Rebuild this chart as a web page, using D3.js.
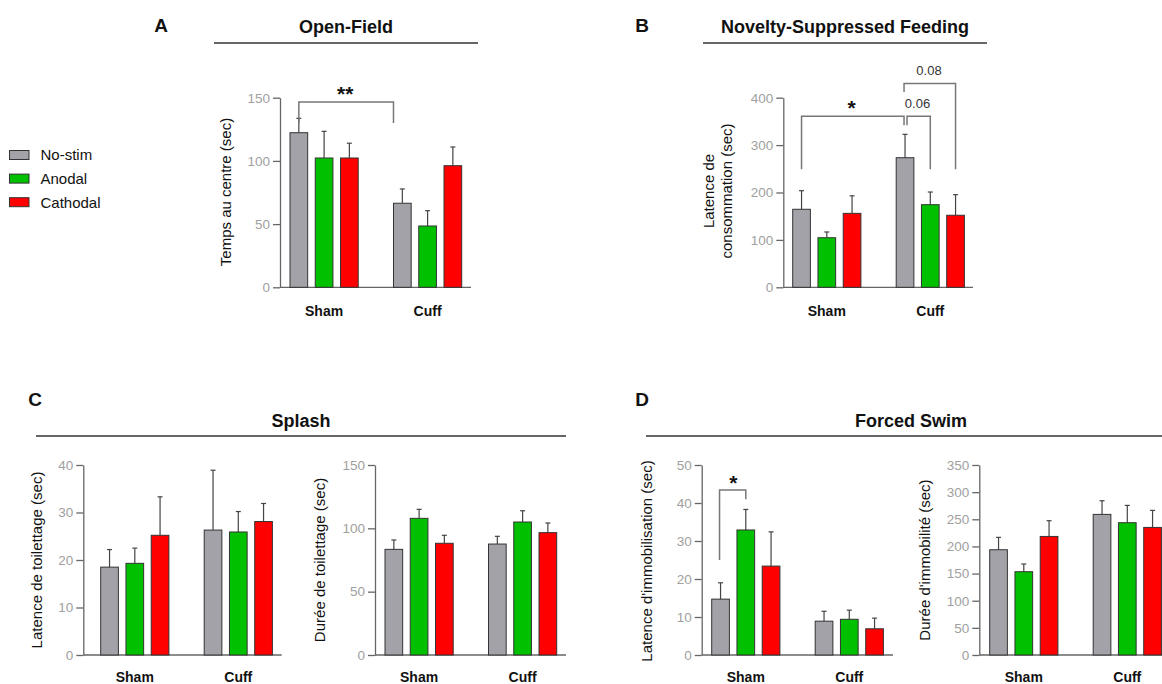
<!DOCTYPE html>
<html>
<head>
<meta charset="utf-8">
<script src="https://cdn.jsdelivr.net/npm/d3@7"></script>
<style>
  html, body { margin: 0; padding: 0; background: #fff; }
  svg { display: block; font-family: "Liberation Sans", Arial, sans-serif; }
</style>
</head>
<body>
<svg id="chart" width="1162" height="684"></svg>
<script>
// ---------------- DATA ----------------
const groups = ["Sham", "Cuff"];
const series = ["No-stim", "Anodal", "Cathodal"];
const seriesColors = ["#a2a2a8", "#00c000", "#ff0000"];

// means [group][series], sem [group][series]
const openFieldMean = [[122.3, 102.3, 102.3], [66.5, 48.5, 96.2]];
const openFieldSem  = [[11.4, 21.1, 11.7], [11.3, 12.1, 14.8]];
const openFieldTicks = [0, 50, 100, 150];

const nsfMean = [[164.6, 104.6, 156.0], [273.4, 174.3, 152.0]];
const nsfSem  = [[39.2, 12.1, 37.0], [49.3, 26.7, 43.4]];
const nsfTicks = [0, 100, 200, 300, 400];

const splashLatMean = [[18.5, 19.3, 25.2], [26.3, 25.9, 28.1]];
const splashLatSem  = [[3.7, 3.2, 8.1], [12.6, 4.3, 3.8]];
const splashLatTicks = [0, 10, 20, 30, 40];

const splashDurMean = [[83.4, 107.9, 88.2], [87.6, 105.0, 96.6]];
const splashDurSem  = [[7.4, 7.1, 6.3], [6.1, 8.9, 7.6]];
const splashDurTicks = [0, 50, 100, 150];

const swimLatMean = [[14.7, 32.9, 23.4], [8.9, 9.4, 6.9]];
const swimLatSem  = [[4.3, 5.4, 9.0], [2.6, 2.4, 2.8]];
const swimLatTicks = [0, 10, 20, 30, 40, 50];

const swimDurMean = [[193.9, 153.4, 218.4], [259.0, 243.7, 235.0]];
const swimDurSem  = [[22.8, 14.2, 29.0], [25.2, 31.9, 31.4]];
const swimDurTicks = [0, 50, 100, 150, 200, 250, 300, 350];

// ---------------- DRAWING ----------------
const svg = d3.select("#chart");
const FONT = '"Liberation Sans", Arial, sans-serif';
const AXIS_COLOR = "#666";

function drawPanel(p) {
  const g = svg.append("g");
  const y = d3.scaleLinear().domain([0, p.max]).range([p.bottom, p.top]);
  const x0 = d3.scaleBand().domain(groups)
    .range([p.ax + p.padL, p.ax + p.padL + 171.7]).paddingInner(0.341);
  const x1 = d3.scaleBand().domain(series).range([0, x0.bandwidth()]).paddingInner(0.3);

  // y axis
  const axis = d3.axisLeft(y).tickValues(p.ticks).tickSize(7).tickSizeOuter(0).tickPadding(3);
  const ag = g.append("g").attr("transform", `translate(${p.ax},0)`).call(axis);
  ag.select(".domain").attr("stroke", AXIS_COLOR).attr("stroke-width", 1.3);
  ag.selectAll(".tick line").attr("stroke", AXIS_COLOR).attr("stroke-width", 1.3);
  ag.selectAll(".tick text").attr("fill", "#a0a0a0").attr("font-size", 13.5).attr("font-family", FONT);

  // x axis line
  g.append("line").attr("x1", p.ax).attr("x2", p.axEnd)
    .attr("y1", p.bottom).attr("y2", p.bottom)
    .attr("stroke", AXIS_COLOR).attr("stroke-width", 1.3);

  // bars + error bars
  groups.forEach((gr, gi) => {
    series.forEach((s, si) => {
      const v = p.mean[gi][si], e = p.sem[gi][si];
      const bx = x0(gr) + x1(s);
      const cx = bx + x1.bandwidth() / 2;
      g.append("line").attr("x1", cx).attr("x2", cx)
        .attr("y1", y(v)).attr("y2", y(v + e))
        .attr("stroke", "#444").attr("stroke-width", 1.2);
      g.append("line").attr("x1", cx - 2.5).attr("x2", cx + 2.5)
        .attr("y1", y(v + e)).attr("y2", y(v + e))
        .attr("stroke", "#444").attr("stroke-width", 1.2);
      g.append("rect").attr("x", bx).attr("y", y(v))
        .attr("width", x1.bandwidth()).attr("height", p.bottom - y(v))
        .attr("fill", seriesColors[si]).attr("stroke", "#333").attr("stroke-width", 1);
    });
    g.append("text").attr("x", x0(gr) + x0.bandwidth() / 2).attr("y", p.catY)
      .attr("text-anchor", "middle").attr("font-weight", "bold").attr("font-size", 14)
      .attr("font-family", FONT).attr("fill", "#111").text(gr);
  });

  // y label(s)
  const lines = p.ylabel;
  const lh = 18;
  lines.forEach((t, i) => {
    const lx = p.ylx + (i - (lines.length - 1) / 2) * lh;
    g.append("text")
      .attr("transform", `translate(${lx},${p.yly}) rotate(-90)`)
      .attr("text-anchor", "middle").attr("dy", "0.36em")
      .attr("font-size", 15).attr("font-family", FONT).attr("fill", "#111").text(t);
  });

  return { x0, x1, y };
}

function bracket(pts) {
  svg.append("path").attr("d", d3.line()(pts))
    .attr("fill", "none").attr("stroke", "#777").attr("stroke-width", 1.5);
}
function label(x, y, t, size, weight, color) {
  svg.append("text").attr("x", x).attr("y", y).attr("text-anchor", "middle")
    .attr("font-size", size).attr("font-weight", weight || "normal")
    .attr("font-family", FONT).attr("fill", color || "#111").text(t);
}
function title(x, y, t, lx1, lx2, ly) {
  label(x, y, t, 18, "bold");
  svg.append("line").attr("x1", lx1).attr("x2", lx2).attr("y1", ly).attr("y2", ly)
    .attr("stroke", "#666").attr("stroke-width", 2.2);
}

// Panel letters and titles
label(161, 32, "A", 19, "bold");
label(642, 32, "B", 19, "bold");
label(35, 406, "C", 19, "bold");
label(642, 406, "D", 19, "bold");
title(346, 33, "Open-Field", 214, 478, 43);
title(845, 33, "Novelty-Suppressed Feeding", 703, 987, 43);
title(301, 427, "Splash", 36, 566, 436);
title(911, 427, "Forced Swim", 646, 1162, 436);

// Panel A
const pA = drawPanel({ mean: openFieldMean, sem: openFieldSem, ticks: openFieldTicks, max: 150,
  ax: 280, padL: 10, axEnd: 471, top: 97.7, bottom: 287.3, catY: 316,
  ylabel: ["Temps au centre (sec)"], ylx: 226, yly: 192 });
{
  const xa = pA.x0("Sham") + pA.x1("No-stim") + pA.x1.bandwidth() / 2;
  const xb = pA.x0("Cuff") + pA.x1("No-stim");
  bracket([[xa, pA.y(130)], [xa, pA.y(146.5)], [xb, pA.y(146.5)], [xb, pA.y(130)]]);
  label((xa + xb) / 2 - 1, 101, "**", 21, "bold");
}

// Panel B
const pB = drawPanel({ mean: nsfMean, sem: nsfSem, ticks: nsfTicks, max: 400,
  ax: 783.3, padL: 9.4, axEnd: 973, top: 97.7, bottom: 287.3, catY: 316,
  ylabel: ["Latence de", "consommation (sec)"], ylx: 718, yly: 191 });
{
  const c = (gr, s) => pB.x0(gr) + pB.x1(s) + pB.x1.bandwidth() / 2;
  const y = pB.y;
  const sN = c("Sham", "No-stim"), cN = c("Cuff", "No-stim"), cA = c("Cuff", "Anodal"), cC = c("Cuff", "Cathodal");
  bracket([[sN, y(249)], [sN, y(361)], [cN - 1, y(361)], [cN - 1, y(342)]]);
  bracket([[cN + 2, y(342)], [cN + 2, y(361)], [cA, y(361)], [cA, y(249)]]);
  bracket([[cN - 1, y(412)], [cN - 1, y(430)], [cC, y(430)], [cC, y(249)]]);
  label(851.7, 115, "*", 21, "bold");
  label(917.5, 108, "0.06", 13, "normal", "#333");
  label(929, 75, "0.08", 13, "normal", "#333");
}

// Panel C
drawPanel({ mean: splashLatMean, sem: splashLatSem, ticks: splashLatTicks, max: 40,
  ax: 83.3, padL: 17.4, axEnd: 281.7, top: 465, bottom: 655, catY: 682,
  ylabel: ["Latence de toilettage (sec)"], ylx: 37, yly: 560 });
drawPanel({ mean: splashDurMean, sem: splashDurSem, ticks: splashDurTicks, max: 150,
  ax: 375, padL: 10, axEnd: 566, top: 465, bottom: 655, catY: 682,
  ylabel: ["Durée de toilettage (sec)"], ylx: 320, yly: 560 });

// Panel D
const pD = drawPanel({ mean: swimLatMean, sem: swimLatSem, ticks: swimLatTicks, max: 50,
  ax: 701.7, padL: 10, axEnd: 893, top: 465, bottom: 655, catY: 682,
  ylabel: ["Latence d'immobilisation (sec)"], ylx: 647, yly: 561 });
{
  const c = (gr, s) => pD.x0(gr) + pD.x1(s) + pD.x1.bandwidth() / 2;
  const y = pD.y;
  const a = c("Sham", "No-stim") - 1, b = c("Sham", "Anodal");
  bracket([[a, y(25)], [a, y(43.4)], [b, y(43.4)], [b, y(41)]]);
  label(733.3, 490, "*", 21, "bold");
}
drawPanel({ mean: swimDurMean, sem: swimDurSem, ticks: swimDurTicks, max: 350,
  ax: 979.3, padL: 10.4, axEnd: 1162, top: 465, bottom: 655, catY: 682,
  ylabel: ["Durée d'immobilité (sec)"], ylx: 925, yly: 560 });

// Legend
const defs = svg.append("defs");
defs.append("clipPath").attr("id", "legclip").append("rect")
  .attr("x", 0).attr("y", 130).attr("width", 104).attr("height", 90);
const leg = svg.append("g").attr("clip-path", "url(#legclip)");
series.forEach((s, i) => {
  const cy = 155 + i * 23.6;
  leg.append("rect").attr("x", 9.5).attr("y", cy - 4.5).attr("width", 19.5).attr("height", 9)
    .attr("fill", seriesColors[i]).attr("stroke", "#333").attr("stroke-width", 1);
  leg.append("text").attr("x", 40.5).attr("y", cy).attr("dy", "0.36em")
    .attr("font-size", 15).attr("font-family", FONT).attr("fill", "#111").text(s);
});
</script>
</body>
</html>
